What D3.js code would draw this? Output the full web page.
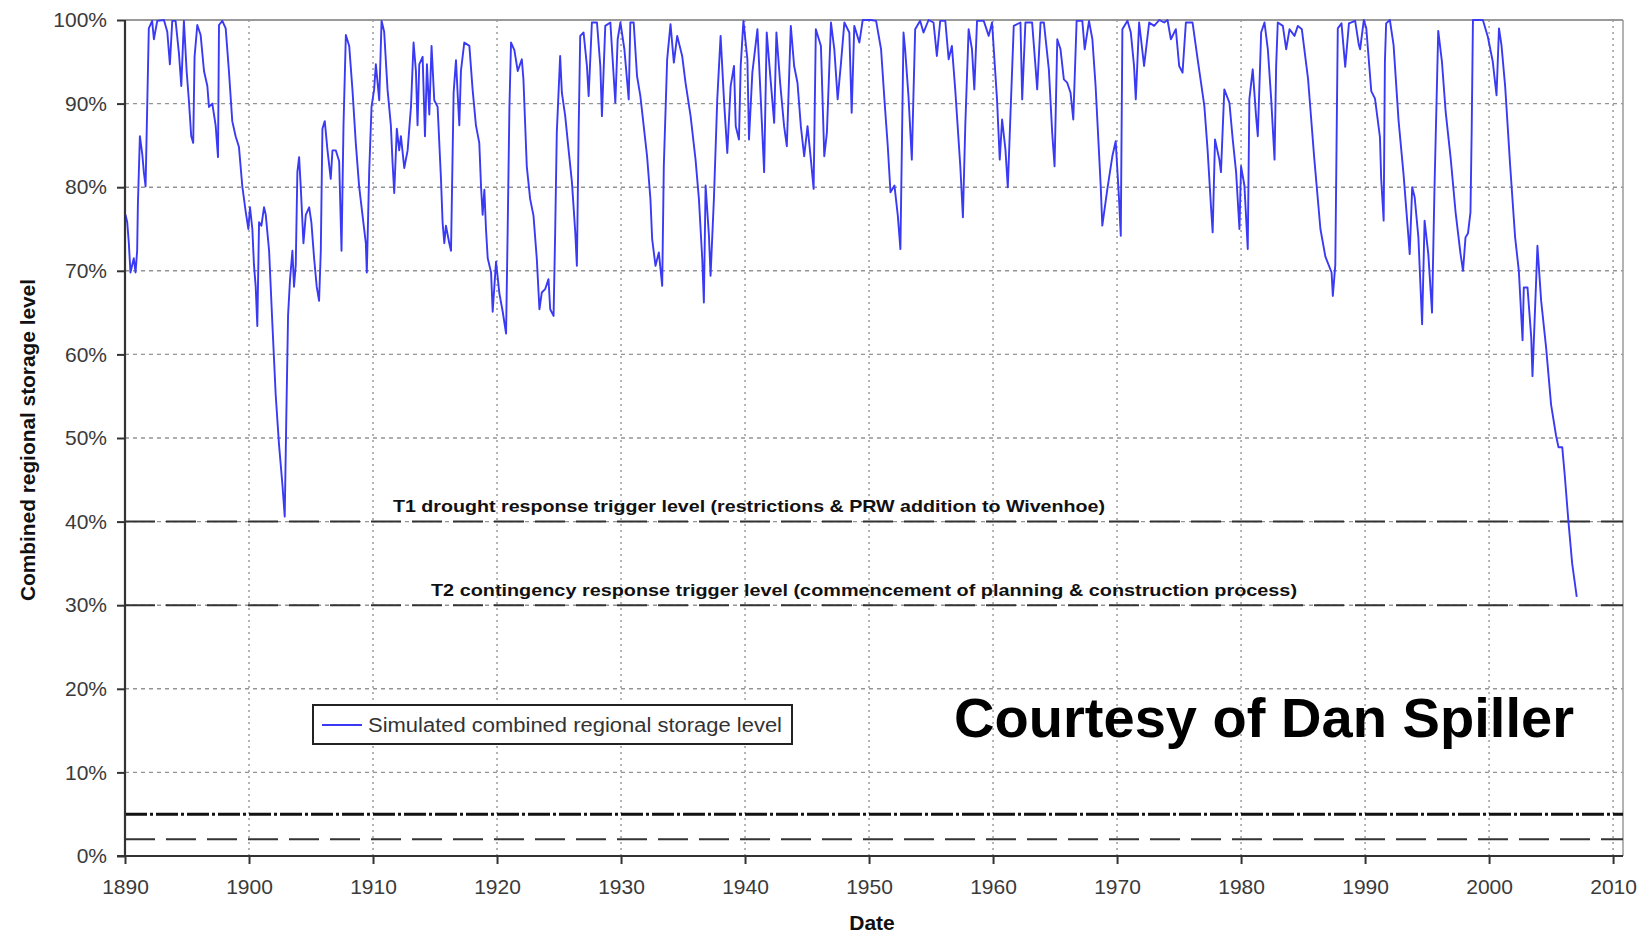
<!DOCTYPE html>
<html>
<head>
<meta charset="utf-8">
<script src="https://cdn.jsdelivr.net/npm/d3@7"></script>
<style>
  html, body { margin: 0; padding: 0; background: #fff; }
  svg { display: block; font-family: "Liberation Sans", Arial, sans-serif; }
</style>
</head>
<body>
<svg id="chart" width="1638" height="935"></svg>
<script>
// ---------------- DATA ----------------
const years = [
  1890.04,1890.18,1890.31,1890.44,1890.71,1890.85,1890.98,1891.04,1891.20,1891.39,1891.52,1891.66,1891.79,1891.92,
  1892.19,1892.33,1892.60,1893.14,1893.41,1893.62,1893.81,1894.08,1894.35,1894.54,1894.75,1894.97,1895.15,1895.34,
  1895.50,1895.61,1895.83,1896.10,1896.37,1896.64,1896.77,1897.04,1897.31,1897.50,1897.58,1897.85,1898.12,1898.38,
  1898.65,1898.92,1899.19,1899.46,1899.73,1899.95,1900.08,1900.27,1900.40,1900.54,1900.67,1900.81,1901.00,1901.21,
  1901.35,1901.62,1901.88,1902.15,1902.42,1902.69,1902.88,1903.01,1903.15,1903.31,1903.50,1903.63,1903.77,1903.90,
  1904.04,1904.17,1904.39,1904.58,1904.85,1905.03,1905.25,1905.46,1905.65,1905.79,1905.92,1906.11,1906.33,1906.59,
  1906.73,1907.00,1907.27,1907.46,1907.62,1907.81,1908.08,1908.34,1908.61,1908.88,1909.15,1909.42,1909.50,1909.69,
  1909.88,1910.09,1910.23,1910.50,1910.69,1910.90,1911.17,1911.44,1911.57,1911.71,1911.92,1912.11,1912.25,1912.52,
  1912.79,1913.06,1913.27,1913.46,1913.59,1913.73,1914.00,1914.19,1914.35,1914.54,1914.72,1914.94,1915.21,1915.48,
  1915.61,1915.75,1915.88,1916.15,1916.29,1916.50,1916.69,1916.82,1916.96,1917.09,1917.36,1917.77,1918.03,1918.30,
  1918.57,1918.71,1918.84,1918.98,1919.11,1919.25,1919.52,1919.65,1919.92,1920.19,1920.46,1920.73,1920.86,1921.00,
  1921.13,1921.40,1921.67,
  1922.00,1922.13,1922.40,1922.67,1922.94,1923.21,1923.42,1923.61,1923.88,1924.15,1924.29,1924.56,1924.69,1924.82,
  1925.09,1925.23,1925.50,1925.77,1926.04,1926.31,1926.44,1926.58,1926.71,1926.98,1927.25,1927.39,1927.65,1928.06,
  1928.33,1928.46,1928.73,1929.14,1929.54,1929.73,1929.95,1930.27,1930.62,1930.75,1931.02,1931.29,1931.56,1931.83,
  1932.10,1932.37,1932.51,1932.78,1933.05,1933.32,1933.45,1933.72,1933.99,1934.26,1934.53,1934.93,1935.20,1935.61,
  1936.01,1936.28,1936.55,1936.68,1936.82,1937.09,1937.22,1937.49,1937.76,1938.03,1938.30,1938.57,1938.84,1939.11,
  1939.25,1939.51,1939.65,1939.87,1940.19,1940.32,1940.59,1941.00,1941.27,1941.54,1941.75,1942.08,1942.35,1942.53,
  1942.83,1943.15,1943.37,1943.69,1943.96,1944.23,1944.50,1944.77,1945.04,1945.31,1945.53,1945.71,1946.12,1946.39,
  1946.60,1946.93,1947.20,1947.47,1947.74,1948.01,1948.41,1948.60,1948.81,1949.22,1949.49,1950.16,1950.57,1950.97,
  1951.24,1951.51,1951.73,1952.05,1952.32,1952.53,
  1952.78,1952.91,1953.18,1953.45,1953.58,1953.72,1954.12,1954.39,1954.80,1955.20,1955.47,1955.74,1956.15,1956.42,
  1956.68,1956.95,1957.36,1957.57,1957.76,1958.03,1958.30,1958.49,1958.71,1959.25,1959.65,1959.92,1960.32,1960.54,
  1960.73,1961.00,1961.19,1961.40,1961.67,1962.21,1962.35,1962.61,1963.15,1963.42,1963.56,1963.83,1964.10,1964.50,
  1964.77,1964.96,1965.18,1965.44,1965.71,1965.98,1966.25,1966.47,1966.74,1967.20,1967.39,1967.74,1968.01,1968.27,
  1968.68,1968.81,1969.22,1969.62,1969.89,1970.16,1970.30,1970.43,1970.84,1971.11,1971.37,1971.51,1971.78,1972.18,
  1972.59,1972.99,1973.40,1973.80,1974.07,1974.34,1974.74,1975.01,1975.28,1975.55,1976.09,1976.50,1976.77,1977.04,
  1977.30,1977.57,1977.71,1977.90,1978.25,1978.38,1978.65,1979.06,1979.33,1979.60,1979.87,1980.00,1980.27,1980.54,
  1980.67,1980.94,1981.21,1981.35,1981.62,1981.89,1982.16,1982.43,1982.70,1982.83,1982.96,1983.37,1983.64,1983.91,
  1984.31,1984.58,
  1984.90,1985.40,1985.90,1986.40,1986.80,1987.30,1987.40,1987.60,1987.70,1987.80,1988.10,1988.40,1988.70,1989.20,
  1989.50,1989.60,1989.90,1990.10,1990.50,1990.80,1991.20,1991.30,1991.50,1991.60,1991.70,1992.00,1992.30,1992.70,
  1993.10,1993.50,1993.60,1993.80,1994.00,1994.30,1994.60,1994.80,1995.10,1995.40,1995.60,1995.90,1996.20,1996.50,
  1996.90,1997.30,1997.70,1997.90,1998.10,1998.30,1998.50,1998.60,1998.70,1999.10,1999.50,1999.90,2000.30,2000.60,
  2000.80,2001.00,2001.30,2001.70,2002.10,2002.40,2002.70,2002.80,2003.10,2003.40,2003.50,2003.80,2003.90,2004.20,
  2004.60,2005.00,2005.40,2005.60,2005.90,2006.10,2006.40,2006.70,2007.07
];
const storage = [
  76.7,75.8,73.3,69.8,71.5,69.8,72.4,78.0,86.1,84.0,81.8,80.1,89.6,99.0,
  99.9,97.7,99.9,100,98.6,94.7,99.9,99.9,96.0,92.1,99.9,93.9,90.4,86.1,
  85.3,95.6,99.4,98.2,93.9,92.1,89.6,90.0,87.4,83.6,99.4,99.9,99.0,93.9,
  87.9,86.1,84.8,80.1,77.1,75.0,77.6,75.0,70.7,68.1,63.4,75.8,75.4,77.6,
  76.7,72.4,63.8,55.2,49.2,44.5,40.6,52.7,64.7,69.0,72.4,68.1,70.7,81.8,
  83.6,80.1,73.3,76.7,77.6,75.8,71.5,68.1,66.4,72.4,87.0,87.9,84.4,81.0,
  84.4,84.4,83.1,72.4,87.4,98.2,96.9,91.7,85.3,80.1,76.7,73.3,69.8,81.8,
  89.6,91.7,94.7,90.4,99.9,98.6,91.7,87.4,83.1,79.3,87.0,84.4,86.1,82.3,
  84.4,89.6,97.3,93.9,87.4,94.7,95.6,86.1,94.7,88.7,96.9,90.4,89.6,81.0,
  75.8,73.3,75.4,73.3,72.4,91.3,95.2,91.3,87.4,93.9,97.3,96.9,91.7,87.4,
  85.3,80.1,76.7,79.7,75.0,71.5,69.8,65.1,71.1,67.3,65.1,62.5,75.0,89.6,
  97.3,96.4,93.9,
  95.3,92.9,82.5,78.6,76.6,71.4,65.4,67.4,67.8,69.0,65.4,64.6,74.6,86.5,
  95.7,91.3,88.5,84.5,80.6,74.6,70.6,86.5,98.1,98.5,94.5,90.9,99.7,99.7,
  94.5,88.5,99.3,99.7,90.1,97.7,99.7,96.5,90.5,99.7,99.7,93.3,90.9,87.3,
  83.7,78.6,73.8,70.6,72.2,68.2,82.5,95.3,99.5,94.9,98.1,95.7,92.5,88.5,
  83.3,78.6,71.4,66.2,80.2,74.2,69.4,78.6,90.5,98.1,90.5,84.1,92.1,94.5,
  87.3,85.7,94.5,99.9,95.3,85.7,93.7,98.9,90.5,81.8,98.5,92.5,87.7,98.5,
  92.5,87.3,84.9,99.3,94.5,92.5,87.3,83.7,87.3,83.3,79.8,98.9,96.9,83.7,
  86.5,99.7,96.5,90.5,94.9,99.7,98.5,88.9,99.3,97.3,100,100,99.9,96.5,
  90.5,84.9,79.4,80.2,76.6,72.6,
  98.5,96.5,90.9,83.3,90.9,98.9,99.9,98.5,100,99.7,95.7,99.9,99.9,95.3,
  96.9,91.7,82.5,76.4,87.3,98.9,96.5,91.7,99.9,99.9,98.1,99.7,90.5,83.3,
  88.1,84.5,80.0,88.5,99.3,99.7,90.5,99.7,99.7,94.5,91.7,99.7,99.7,94.1,
  86.5,82.5,97.7,96.5,92.9,92.5,91.3,88.1,99.9,99.9,96.5,99.9,97.7,92.1,
  80.2,75.4,79.8,83.7,85.5,78.6,74.2,98.9,99.9,98.5,94.5,90.5,99.7,94.5,
  99.7,99.3,100,99.7,100,97.7,98.9,94.5,93.7,99.7,99.7,95.3,92.5,89.7,
  84.5,77.8,74.6,85.7,83.3,81.8,91.7,90.1,85.7,81.8,75.0,82.5,80.2,72.6,
  90.5,94.1,88.5,86.1,98.5,99.7,96.5,90.5,83.3,94.5,99.7,99.3,96.5,98.9,
  98.1,99.3,
  98.9,93.0,83.5,75.0,71.7,69.8,67.0,70.7,85.0,99.0,99.6,94.4,99.6,99.9,
  97.0,96.5,100,99.0,91.5,90.6,86.0,81.0,76.0,95.0,99.6,100,97.0,88.0,
  81.6,74.0,72.0,80.0,78.8,74.0,63.6,76.0,72.0,65.0,80.0,98.7,95.0,89.0,
  83.5,77.0,72.0,70.0,74.0,74.5,77.0,87.0,100,100,100,98.0,95.0,91.0,
  99.0,97.0,92.0,82.6,74.0,70.0,61.7,68.0,68.0,62.0,57.4,69.0,73.0,66.4,
  60.8,54.0,50.3,48.9,48.9,45.6,40.0,35.0,31.0
];
const xTickValues = [1890,1900,1910,1920,1930,1940,1950,1960,1970,1980,1990,2000,2010];
const yTickValues = [0,10,20,30,40,50,60,70,80,90,100];
const triggerLevels = [40, 30];
const triggerLabels = [
  "T1 drought response trigger level (restrictions & PRW addition to Wivenhoe)",
  "T2 contingency response trigger level (commencement of planning & construction process)"
];
const lowLevels = [5, 2];
const legendLabel = "Simulated combined regional storage level";
const yTitle = "Combined regional storage level";
const xTitle = "Date";
const credit = "Courtesy of Dan Spiller";

// ---------------- LAYOUT ----------------
const svg = d3.select("#chart");
const L = 125, R = 1623, T = 20, B = 856;
const x = d3.scaleLinear().domain([1890, 2010.8]).range([L, R]);
const y = d3.scaleLinear().domain([0, 100]).range([B, T]);
const BLUE = "#3a3af5";

svg.append("rect").attr("width", 1638).attr("height", 935).attr("fill", "#fff");

// gridlines
svg.append("g").selectAll("line").data(yTickValues.filter(d => d > 0 && d < 100)).join("line")
  .attr("x1", L).attr("x2", R).attr("y1", d => y(d)).attr("y2", d => y(d))
  .attr("stroke", "#949494").attr("stroke-width", 1.4).attr("stroke-dasharray", "4,4");
svg.append("g").selectAll("line").data(xTickValues.filter(d => d > 1890)).join("line")
  .attr("x1", d => x(d)).attr("x2", d => x(d)).attr("y1", T).attr("y2", B)
  .attr("stroke", "#949494").attr("stroke-width", 1.4).attr("stroke-dasharray", "2,4");

// top & right border
svg.append("line").attr("x1", L).attr("x2", R).attr("y1", T).attr("y2", T)
  .attr("stroke", "#9a9a9a").attr("stroke-width", 2);
svg.append("line").attr("x1", R).attr("x2", R).attr("y1", T).attr("y2", B)
  .attr("stroke", "#9a9a9a").attr("stroke-width", 1.5);

// trigger lines
svg.append("g").selectAll("line").data(triggerLevels).join("line")
  .attr("x1", L).attr("x2", R).attr("y1", d => y(d)).attr("y2", d => y(d))
  .attr("stroke", "#333").attr("stroke-width", 2).attr("stroke-dasharray", "30,11");
// low level lines
svg.append("line").attr("x1", L).attr("x2", R).attr("y1", y(lowLevels[0])).attr("y2", y(lowLevels[0]))
  .attr("stroke", "#111").attr("stroke-width", 3).attr("stroke-dasharray", "22,3,3,3");
svg.append("line").attr("x1", L).attr("x2", R).attr("y1", y(lowLevels[1])).attr("y2", y(lowLevels[1]))
  .attr("stroke", "#333").attr("stroke-width", 2).attr("stroke-dasharray", "30,11");

// trigger labels
const labelPos = [{cx: 749, dy: -10, len: 712}, {cx: 864, dy: -9, len: 866}];
svg.append("g").selectAll("text").data(triggerLevels).join("text")
  .attr("x", (d, i) => labelPos[i].cx).attr("y", d => y(d))
  .attr("dy", (d, i) => labelPos[i].dy)
  .attr("text-anchor", "middle").attr("font-weight", "bold").attr("font-size", 17)
  .attr("fill", "#111")
  .attr("textLength", (d, i) => labelPos[i].len).attr("lengthAdjust", "spacingAndGlyphs")
  .text((d, i) => triggerLabels[i]);

// data line
const series = years.map((yr, i) => [yr, storage[i]]);
svg.append("path").datum(series)
  .attr("fill", "none").attr("stroke", BLUE).attr("stroke-width", 1.9).attr("stroke-linejoin", "round")
  .attr("d", d3.line().x(d => x(d[0])).y(d => y(d[1])));

// axes
const yAxis = svg.append("g").attr("transform", `translate(${L},0)`)
  .call(d3.axisLeft(y).tickValues(yTickValues).tickSize(8).tickPadding(10).tickFormat(d => d + "%"));
const xAxis = svg.append("g").attr("transform", `translate(0,${B})`)
  .call(d3.axisBottom(x).tickValues(xTickValues).tickSize(8).tickPadding(10).tickFormat(d3.format("d")));
[yAxis, xAxis].forEach(a => {
  a.select(".domain").attr("stroke", "#333").attr("stroke-width", 2.2);
  a.selectAll(".tick line").attr("stroke", "#333").attr("stroke-width", 2);
  a.selectAll(".tick text").attr("font-size", 21).attr("fill", "#3a3a3a")
    .attr("font-family", "'Liberation Sans', Arial, sans-serif");
});
xAxis.select(".domain").attr("d", `M${L - 8},0H${R}`);
yAxis.select(".domain").attr("d", `M0,${T}V${B}`);
xAxis.selectAll(".tick text").attr("dy", "0.95em");

// axis titles
svg.append("text")
  .attr("transform", `translate(35,440) rotate(-90)`)
  .attr("text-anchor", "middle").attr("font-weight", "bold").attr("font-size", 20)
  .attr("fill", "#111").attr("textLength", 322).attr("lengthAdjust", "spacingAndGlyphs")
  .text(yTitle);
svg.append("text").attr("x", 872).attr("y", 930)
  .attr("text-anchor", "middle").attr("font-weight", "bold").attr("font-size", 21)
  .attr("fill", "#111").text(xTitle);

// legend
const lg = svg.append("g");
lg.append("rect").attr("x", 313).attr("y", 705).attr("width", 479).attr("height", 39)
  .attr("fill", "#fff").attr("stroke", "#222").attr("stroke-width", 2);
lg.append("line").attr("x1", 322).attr("x2", 362).attr("y1", 725).attr("y2", 725)
  .attr("stroke", BLUE).attr("stroke-width", 1.9);
lg.append("text").attr("x", 368).attr("y", 725).attr("dy", "0.35em")
  .attr("font-size", 20).attr("fill", "#333")
  .attr("textLength", 414).attr("lengthAdjust", "spacingAndGlyphs")
  .text(legendLabel);

// credit
svg.append("text").attr("x", 954).attr("y", 737)
  .attr("font-size", 56).attr("font-weight", "bold").attr("fill", "#000")
  .attr("textLength", 620).attr("lengthAdjust", "spacingAndGlyphs")
  .text(credit);
</script>
</body>
</html>
